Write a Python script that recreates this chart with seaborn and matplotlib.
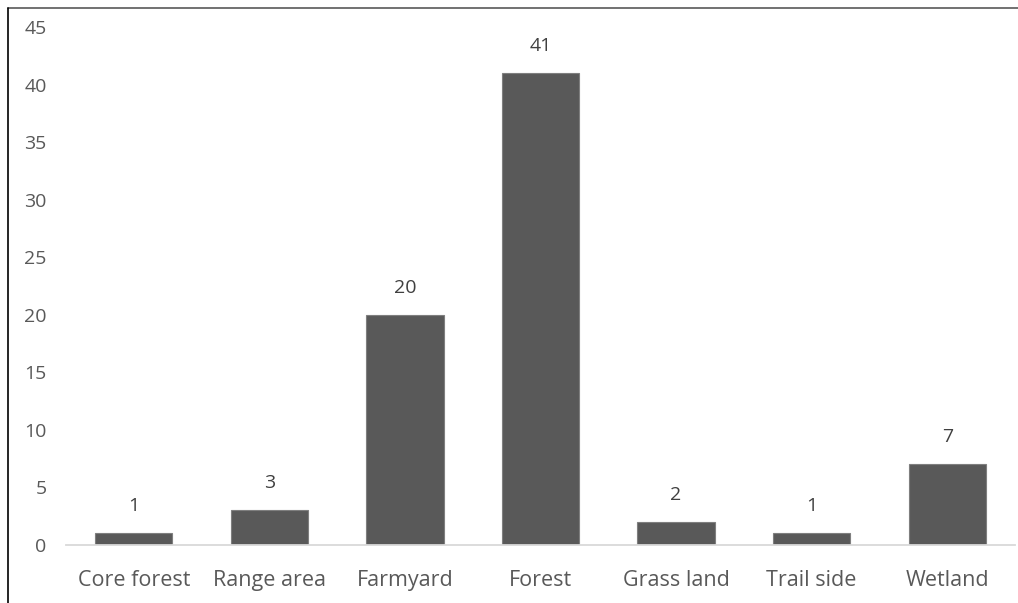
import matplotlib
matplotlib.use("Agg")
import matplotlib.pyplot as plt
from matplotlib.lines import Line2D
import seaborn as sns
import pandas as pd

categories = ["Core forest", "Range area", "Farmyard", "Forest", "Grass land", "Trail side", "Wetland"]
counts = [1, 3, 20, 41, 2, 1, 7]
y_ticks = [0, 5, 10, 15, 20, 25, 30, 35, 40, 45]

sns.set_theme(style="white")
plt.rcParams["font.family"] = ["Open Sans", "DejaVu Sans"]

df = pd.DataFrame({"habitat": categories, "count": counts})

W, H = 1018, 603
fig = plt.figure(figsize=(W / 100, H / 100), dpi=100)
ax = fig.add_axes([66 / W, 1 - 545 / H, (1015 - 66) / W, (545 - 27) / H])

sns.barplot(data=df, x="habitat", y="count", color="#595959", saturation=1,
            width=0.57, edgecolor="#7f7f7f", linewidth=0.8, ax=ax)

ax.set_ylim(0, 45)
ax.set_yticks(y_ticks)
ax.set_xlabel("")
ax.set_ylabel("")
for s in ["top", "right", "left"]:
    ax.spines[s].set_visible(False)
ax.spines["bottom"].set_color("#d9d9d9")
ax.spines["bottom"].set_linewidth(1.3)
ax.tick_params(axis="y", length=0, labelsize=14, labelcolor="#595959", pad=14)
ax.tick_params(axis="x", length=0, labelsize=15.5, labelcolor="#595959", pad=18)

for container in ax.containers:
    ax.bar_label(container, labels=[str(v) for v in counts], padding=13,
                 fontsize=14, color="#404040")

# frame lines along the top and left edges of the figure
fig.add_artist(Line2D([7.5 / W, 1.0], [1 - 7.5 / H, 1 - 7.5 / H],
                      transform=fig.transFigure, color="#595959", linewidth=1.2))
fig.add_artist(Line2D([7.5 / W, 7.5 / W], [0, 1 - 7.5 / H],
                      transform=fig.transFigure, color="#000000", linewidth=1.2))

fig.savefig("out.png", dpi=100)
